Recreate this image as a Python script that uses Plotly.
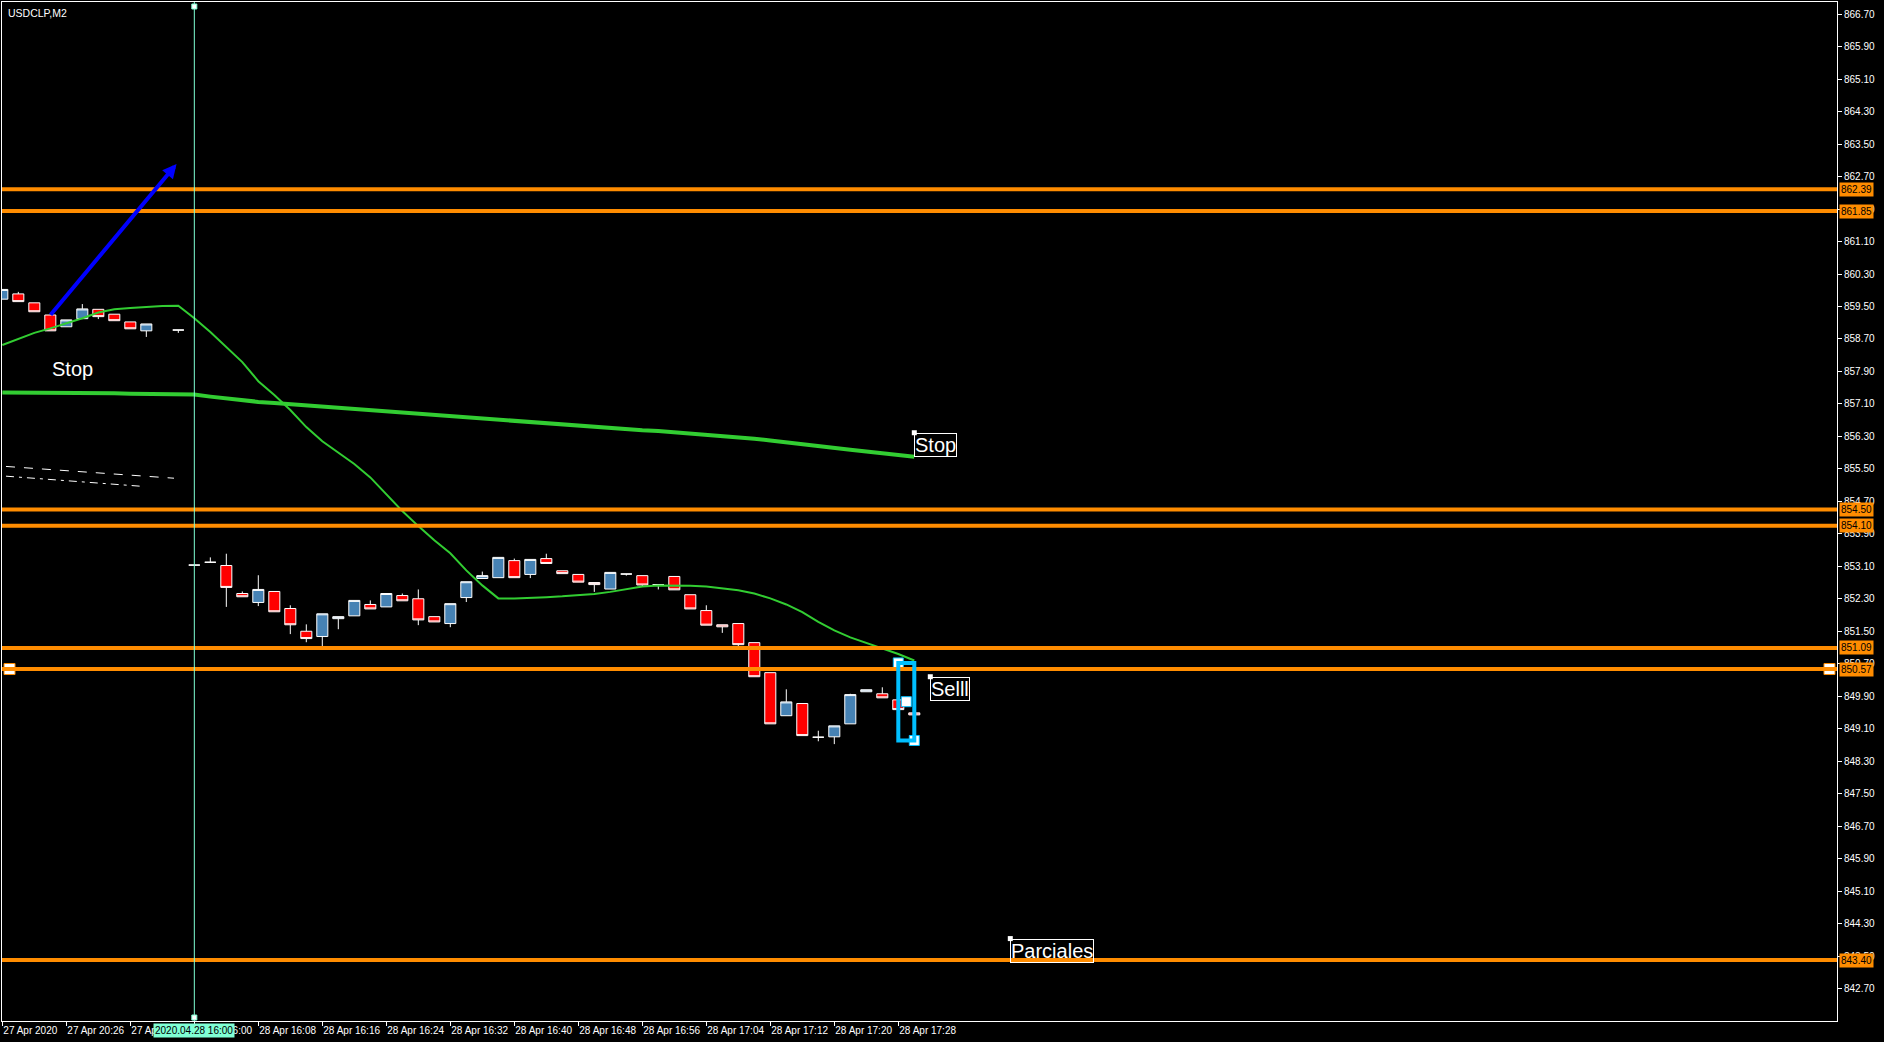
import plotly.graph_objects as go

# ---------------- data ----------------
chart_title = "USDCLP,M2"

bar_index = [0, 1, 2, 3, 4, 5, 6, 7, 8, 9,
             11, 12, 13, 14, 15, 16, 17, 18, 19, 20,
             21, 22, 23, 24, 25, 26, 27, 28, 29, 30,
             31, 32, 33, 34, 35, 36, 37, 38, 39, 40,
             41, 42, 43, 44, 45, 46, 47, 48, 49, 50,
             51, 52, 53, 54, 55, 56, 57]
opens = [859.68, 859.81, 859.59, 859.29, 859.00, 859.20, 859.43, 859.31, 859.12, 858.90,
         858.92, 853.13, 853.20, 853.12, 852.43, 852.21, 852.48, 852.06, 851.50, 851.37,
         851.81, 851.88, 852.16, 852.10, 852.38, 852.30, 851.86, 851.69, 852.33, 852.80,
         852.82, 853.24, 852.90, 853.29, 852.99, 852.90, 852.70, 852.54, 852.91, 852.87,
         852.65, 852.85, 852.40, 852.01, 851.66, 851.69, 851.22, 850.48, 849.42, 849.72,
         848.89, 848.90, 849.22, 850.01, 849.96, 849.81, 849.49]
highs = [859.92, 859.86, 859.59, 859.29, 859.17, 859.56, 859.43, 859.31, 859.12, 859.07,
         858.92, 853.13, 853.32, 853.41, 852.48, 852.88, 852.48, 852.14, 851.67, 851.93,
         851.86, 852.26, 852.26, 852.43, 852.43, 852.53, 851.86, 852.18, 852.72, 852.97,
         853.32, 853.29, 853.27, 853.41, 852.99, 852.90, 852.70, 852.95, 852.91, 852.87,
         852.65, 852.85, 852.40, 852.14, 851.66, 851.69, 851.22, 850.48, 850.07, 849.72,
         849.05, 849.17, 849.96, 850.06, 850.12, 849.81, 849.49]
lows = [859.68, 859.62, 859.37, 858.90, 859.00, 859.20, 859.19, 859.15, 858.95, 858.75,
        858.85, 853.13, 853.20, 852.10, 852.35, 852.12, 851.98, 851.43, 851.23, 851.13,
        851.55, 851.88, 852.05, 852.10, 852.25, 851.65, 851.73, 851.60, 852.22, 852.80,
        852.82, 852.82, 852.81, 853.17, 852.92, 852.71, 852.47, 852.54, 852.87, 852.61,
        852.53, 852.52, 852.05, 851.65, 851.46, 851.13, 850.38, 849.22, 849.42, 848.93,
        848.79, 848.72, 849.22, 850.01, 849.86, 849.57, 849.44]
closes = [859.92, 859.62, 859.37, 858.90, 859.17, 859.44, 859.25, 859.15, 858.95, 859.07,
          858.92, 853.13, 853.20, 852.58, 852.35, 852.53, 851.98, 851.66, 851.32, 851.93,
          851.86, 852.26, 852.05, 852.43, 852.25, 851.78, 851.73, 852.18, 852.72, 852.87,
          853.32, 852.82, 853.27, 853.17, 852.92, 852.71, 852.65, 852.95, 852.91, 852.64,
          852.65, 852.52, 852.05, 851.65, 851.61, 851.17, 850.38, 849.22, 849.76, 848.93,
          848.89, 849.17, 849.94, 850.06, 849.86, 849.57, 849.44]

ma_index = list(range(58))
ma_fast = [858.55, 858.70, 858.85, 858.96, 859.08, 859.21, 859.35, 859.43, 859.46, 859.49,
           859.51, 859.52, 859.21, 858.87, 858.50, 858.13, 857.66, 857.32, 856.95, 856.53,
           856.18, 855.89, 855.62, 855.29, 854.88, 854.46, 854.09, 853.74, 853.42, 853.00,
           852.63, 852.31, 852.31, 852.32, 852.34, 852.36, 852.39, 852.42, 852.47, 852.53,
           852.60, 852.63, 852.63, 852.62, 852.60, 852.56, 852.51, 852.43, 852.31, 852.16,
           851.97, 851.73, 851.52, 851.35, 851.21, 851.08, 850.94, 850.78]
ma_slow = [857.38, 857.38, 857.38, 857.38, 857.38, 857.38, 857.38, 857.36, 857.35, 857.35,
           857.34, 857.34, 857.33, 857.28, 857.23, 857.19, 857.15, 857.12, 857.09, 857.06,
           857.04, 857.01, 856.98, 856.95, 856.92, 856.89, 856.86, 856.83, 856.79, 856.76,
           856.73, 856.70, 856.67, 856.64, 856.61, 856.59, 856.56, 856.53, 856.51, 856.48,
           856.45, 856.43, 856.40, 856.37, 856.35, 856.32, 856.28, 856.24, 856.20, 856.15,
           856.11, 856.06, 856.02, 855.97, 855.93, 855.88, 855.84, 855.80]

env_upper_x = [0.23, 10.73]
env_upper_y = [855.56, 855.27]
env_lower_x = [0.23, 8.73]
env_lower_y = [855.32, 855.07]

level_prices = [862.39, 861.85, 854.50, 854.10, 851.09, 850.57, 843.40]
level_labels = ["862.39", "861.85", "854.50", "854.10", "851.09", "850.57", "843.40"]

price_ticks = [866.70, 865.90, 865.10, 864.30, 863.50, 862.70, 861.90, 861.10, 860.30, 859.50,
               858.70, 857.90, 857.10, 856.30, 855.50, 854.70, 853.90, 853.10, 852.30, 851.50,
               850.70, 849.90, 849.10, 848.30, 847.50, 846.70, 845.90, 845.10, 844.30, 843.50,
               842.70]
price_tick_labels = ["866.70", "865.90", "865.10", "864.30", "863.50", "862.70", "861.90", "861.10",
                     "860.30", "859.50", "858.70", "857.90", "857.10", "856.30", "855.50", "854.70",
                     "853.90", "853.10", "852.30", "851.50", "850.70", "849.90", "849.10", "848.30",
                     "847.50", "846.70", "845.90", "845.10", "844.30", "843.50", "842.70"]

time_tick_bars = [0, 4, 8, 12, 16, 20, 24, 28, 32, 36, 40, 44, 48, 52, 56]
time_tick_labels = ["27 Apr 2020", "27 Apr 20:26", "27 Apr 20:34", "28 Apr 16:00", "28 Apr 16:08",
                    "28 Apr 16:16", "28 Apr 16:24", "28 Apr 16:32", "28 Apr 16:40", "28 Apr 16:48",
                    "28 Apr 16:56", "28 Apr 17:04", "28 Apr 17:12", "28 Apr 17:20", "28 Apr 17:28"]

vline_bar = 12
vline_label = "2020.04.28 16:00"

arrow_x = [2.94, 10.89]
arrow_y = [859.26, 863.01]

rect_x = [56, 57]
rect_y = [848.81, 850.72]

free_text = "Stop"
free_text_x = 3
free_text_y = 857.95

box_texts = ["Stop", "Selll", "Parciales"]
box_x = [57, 58, 63]
box_y = [856.39, 850.38, 843.93]

handle_level_x = [0.45, 114.2]

# ---------------- styles ----------------
ORANGE = "#FF8C00"
GREEN = "#32CD32"
AQUA = "#7FFFD4"
RECT_BLUE = "#00BFFF"
FONT = "Liberation Sans, Arial, sans-serif"

fig = go.Figure()

fig.add_trace(go.Candlestick(
    x=bar_index, open=opens, high=highs, low=lows, close=closes,
    increasing=dict(line=dict(color="white", width=1), fillcolor="#4682B4"),
    decreasing=dict(line=dict(color="white", width=1), fillcolor="#FF0000"),
    whiskerwidth=0, showlegend=False, hoverinfo="skip"))

fig.add_trace(go.Scatter(x=ma_index, y=ma_slow, mode="lines",
                         line=dict(color=GREEN, width=4), showlegend=False, hoverinfo="skip"))
fig.add_trace(go.Scatter(x=ma_index, y=ma_fast, mode="lines",
                         line=dict(color=GREEN, width=2), showlegend=False, hoverinfo="skip"))

fig.add_trace(go.Scatter(x=env_upper_x, y=env_upper_y, mode="lines",
                         line=dict(color="white", width=1, dash="dash"), showlegend=False, hoverinfo="skip"))
fig.add_trace(go.Scatter(x=env_lower_x, y=env_lower_y, mode="lines",
                         line=dict(color="white", width=1, dash="8px,5px,3px,5px"), showlegend=False, hoverinfo="skip"))

# horizontal levels
for p in level_prices:
    fig.add_shape(type="line", xref="paper", x0=0, x1=1, yref="y", y0=p, y1=p,
                  line=dict(color=ORANGE, width=4), layer="above")

# vertical line
fig.add_shape(type="line", xref="x", x0=vline_bar, x1=vline_bar, yref="paper", y0=0, y1=1,
              line=dict(color=AQUA, width=1), layer="above")
for yanc, y0, y1 in [(1, -7, -2), (0, 1, 6)]:
    fig.add_shape(type="rect", xref="x", xsizemode="pixel", xanchor=vline_bar, x0=-2.5, x1=2.5,
                  yref="paper", ysizemode="pixel", yanchor=yanc, y0=y0, y1=y1,
                  line=dict(color=AQUA, width=1), fillcolor="white", layer="above")

# rectangle
fig.add_shape(type="rect", x0=rect_x[0], x1=rect_x[1], y0=rect_y[0], y1=rect_y[1],
              line=dict(color=RECT_BLUE, width=4), layer="above")

# handles
fig.add_trace(go.Scatter(x=handle_level_x, y=[level_prices[5]] * 2, mode="markers",
                         marker=dict(symbol="square", size=11, color="white",
                                     line=dict(color=ORANGE, width=1)),
                         showlegend=False, hoverinfo="skip"))
fig.add_trace(go.Scatter(x=[rect_x[0], rect_x[1], (rect_x[0] + rect_x[1]) / 2],
                         y=[rect_y[1], rect_y[0], (rect_y[0] + rect_y[1]) / 2], mode="markers",
                         marker=dict(symbol="square", size=10, color="white",
                                     line=dict(color=RECT_BLUE, width=1)),
                         showlegend=False, hoverinfo="skip"))
fig.add_trace(go.Scatter(x=box_x, y=box_y, mode="markers",
                         marker=dict(symbol="square", size=5, color="white"),
                         showlegend=False, hoverinfo="skip"))

annotations = []
# arrow
annotations.append(dict(x=arrow_x[1], y=arrow_y[1], ax=arrow_x[0], ay=arrow_y[0],
                        xref="x", yref="y", axref="x", ayref="y", text="", showarrow=True,
                        arrowcolor="#0000FF", arrowwidth=4, arrowhead=2, arrowsize=0.7))
# free text
annotations.append(dict(x=free_text_x, y=free_text_y, xref="x", yref="y", text=free_text,
                        showarrow=False, xanchor="left", yanchor="middle",
                        font=dict(family=FONT, size=20, color="white")))
# boxed texts
for t, bx, by in zip(box_texts, box_x, box_y):
    annotations.append(dict(x=bx, y=by, xref="x", yref="y", text=t, showarrow=False,
                            xanchor="left", yanchor="top", bordercolor="white", borderwidth=1,
                            borderpad=0, font=dict(family=FONT, size=20, color="white")))
# price tags
for p, lab in zip(level_prices, level_labels):
    annotations.append(dict(x=1, y=p, xref="paper", yref="y", text=lab, showarrow=False,
                            xanchor="left", yanchor="middle", xshift=2, bgcolor=ORANGE,
                            borderpad=1, font=dict(family=FONT, size=10, color="black")))
# vertical line time tag
annotations.append(dict(x=vline_bar, y=0, xref="x", yref="paper", text=vline_label, showarrow=False,
                        xanchor="center", yanchor="top", yshift=-2, bgcolor=AQUA, borderpad=1,
                        font=dict(family=FONT, size=10, color="black")))
# title
annotations.append(dict(x=0, y=1, xref="paper", yref="paper", text=chart_title, showarrow=False,
                        xanchor="left", yanchor="top", xshift=4, yshift=-3,
                        font=dict(family=FONT, size=10.5, color="white")))

fig.update_layout(
    width=1884, height=1042,
    margin=dict(l=2, r=47, t=2, b=21, autoexpand=False),
    paper_bgcolor="black", plot_bgcolor="black",
    showlegend=False,
    boxgap=0.31, boxgroupgap=0,
    annotations=annotations,
    xaxis=dict(range=[-0.02, 114.67], showgrid=False, zeroline=False, automargin=False,
               tickmode="array", tickvals=time_tick_bars, ticktext=time_tick_labels,
               ticks="outside", ticklen=4, tickcolor="white", ticklabelposition="outside right",
               tickangle=0, tickfont=dict(family=FONT, size=10, color="white"),
               showline=True, linecolor="white", linewidth=1, mirror=True,
               rangeslider=dict(visible=False), fixedrange=True),
    yaxis=dict(range=[841.90, 867.00], side="right", showgrid=False, zeroline=False, automargin=False,
               tickmode="array", tickvals=price_ticks, ticktext=price_tick_labels,
               ticks="outside", ticklen=4, tickcolor="white",
               tickfont=dict(family=FONT, size=10, color="white"),
               showline=True, linecolor="white", linewidth=1, mirror=True, fixedrange=True),
)

fig.write_html("out.html", config={"displayModeBar": False},
               post_script="document.body.style.margin='0';document.body.style.background='black';"
                           "document.body.style.overflow='hidden';")
